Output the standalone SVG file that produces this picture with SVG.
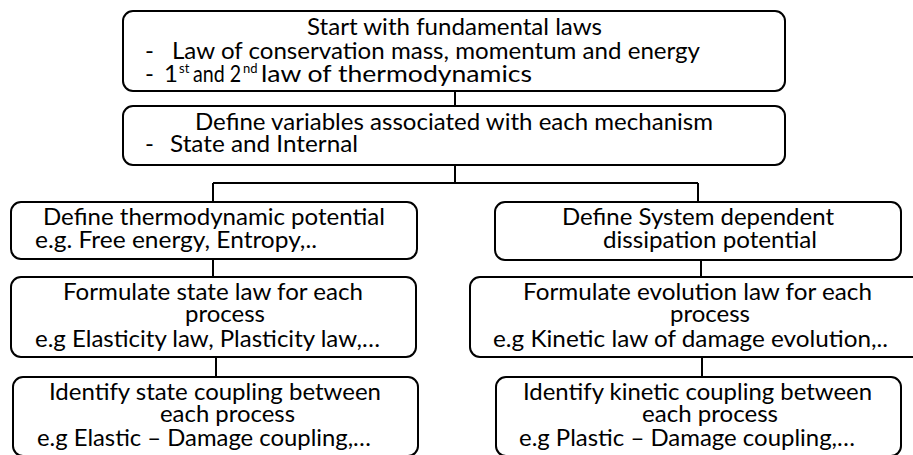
<svg xmlns="http://www.w3.org/2000/svg" width="913" height="455" viewBox="0 0 913 455">
<style>
.box{fill:#fff;stroke:#000;stroke-width:2}
.t{font-family:Lato,"Liberation Sans",sans-serif;font-size:24px;fill:#000}
.sup{font-family:Lato,"Liberation Sans",sans-serif;font-size:13px;fill:#000}
.c{fill:none;stroke:#000;stroke-width:2}
</style>
<rect width="913" height="455" fill="#fff"/>
<g id="connectors">
<path class="c" d="M455 91V106M455 165V183M213 183H698M213 183V202M698 183V202M213 259V277M216 357V377M701 260V277M702 357V377"/>
</g>
<g id="n1">
<rect class="box" x="123" y="11" width="662" height="80" rx="10"/>
<text class="t" x="307" y="35" textLength="295" lengthAdjust="spacingAndGlyphs">Start with fundamental laws</text>
<text class="t" x="145" y="59">-</text>
<text class="t" x="172" y="59" textLength="528" lengthAdjust="spacingAndGlyphs">Law of conservation mass, momentum and energy</text>
<text class="t" x="145" y="82">-</text>
<text class="t" x="178" y="82" text-anchor="end">1</text>
<text class="sup" x="179" y="73">st</text>
<text class="t" x="193" y="82" textLength="48" lengthAdjust="spacingAndGlyphs">and 2</text>
<text class="sup" x="243" y="73">nd</text>
<text class="t" x="261" y="82" textLength="271" lengthAdjust="spacingAndGlyphs">law of thermodynamics</text>
</g>
<g id="n2">
<rect class="box" x="123" y="106" width="662" height="59" rx="10"/>
<text class="t" x="195" y="130" textLength="518" lengthAdjust="spacingAndGlyphs">Define variables associated with each mechanism</text>
<text class="t" x="145" y="152">-</text>
<text class="t" x="170" y="152" textLength="188" lengthAdjust="spacingAndGlyphs">State and Internal</text>
</g>
<g id="n3">
<rect class="box" x="11" y="202" width="406" height="57" rx="10"/>
<text class="t" x="43" y="225" textLength="342" lengthAdjust="spacingAndGlyphs">Define thermodynamic potential</text>
<text class="t" x="35" y="248" textLength="282" lengthAdjust="spacingAndGlyphs">e.g. Free energy, Entropy,..</text>
</g>
<g id="n4">
<rect class="box" x="11" y="277" width="405" height="80" rx="10"/>
<text class="t" x="63" y="300" textLength="300" lengthAdjust="spacingAndGlyphs">Formulate state law for each</text>
<text class="t" x="185" y="322" textLength="80" lengthAdjust="spacingAndGlyphs">process</text>
<text class="t" x="35" y="347" textLength="345" lengthAdjust="spacingAndGlyphs">e.g Elasticity law, Plasticity law,…</text>
</g>
<g id="n5">
<rect class="box" x="13" y="377" width="405" height="79" rx="10"/>
<text class="t" x="49" y="400" textLength="332" lengthAdjust="spacingAndGlyphs">Identify state coupling between</text>
<text class="t" x="160" y="422" textLength="135" lengthAdjust="spacingAndGlyphs">each process</text>
<text class="t" x="37" y="446" textLength="334" lengthAdjust="spacingAndGlyphs">e.g Elastic – Damage coupling,…</text>
</g>
<g id="n6">
<rect class="box" x="495" y="202" width="406" height="58" rx="10"/>
<text class="t" x="562" y="225" textLength="272" lengthAdjust="spacingAndGlyphs">Define System dependent</text>
<text class="t" x="603" y="248" textLength="214" lengthAdjust="spacingAndGlyphs">dissipation potential</text>
</g>
<g id="n7">
<rect class="box" x="470" y="277" width="455" height="80" rx="10"/>
<text class="t" x="523" y="300" textLength="349" lengthAdjust="spacingAndGlyphs">Formulate evolution law for each</text>
<text class="t" x="670" y="322" textLength="80" lengthAdjust="spacingAndGlyphs">process</text>
<text class="t" x="493" y="347" textLength="395" lengthAdjust="spacingAndGlyphs">e.g Kinetic law of damage evolution,..</text>
</g>
<g id="n8">
<rect class="box" x="496" y="377" width="405" height="79" rx="10"/>
<text class="t" x="523" y="400" textLength="349" lengthAdjust="spacingAndGlyphs">Identify kinetic coupling between</text>
<text class="t" x="642" y="422" textLength="136" lengthAdjust="spacingAndGlyphs">each process</text>
<text class="t" x="519" y="446" textLength="336" lengthAdjust="spacingAndGlyphs">e.g Plastic – Damage coupling,…</text>
</g>
</svg>
